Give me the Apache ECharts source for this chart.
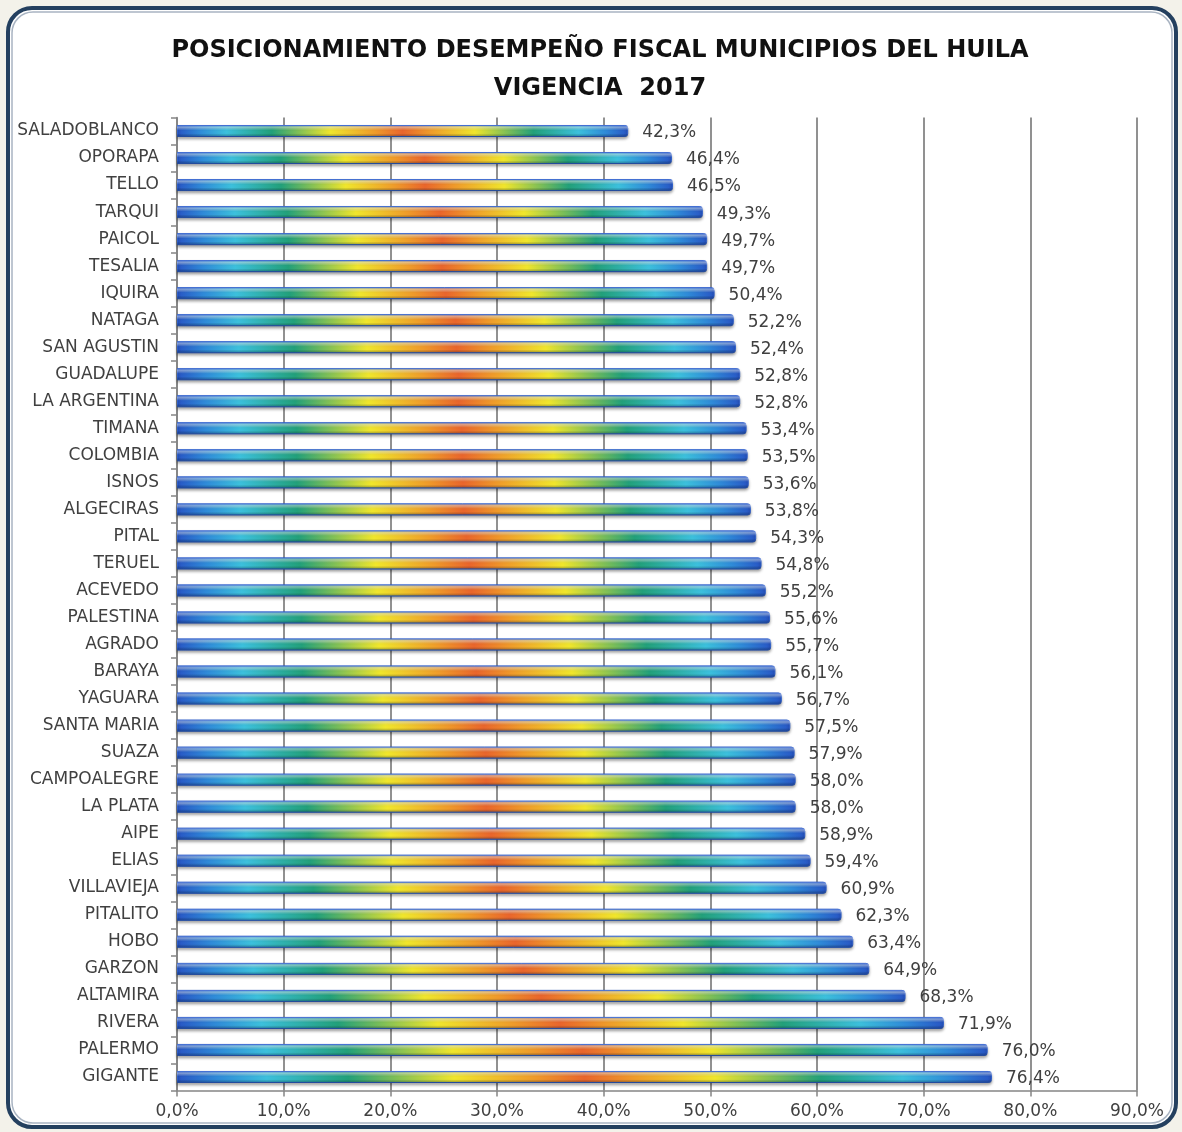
<!DOCTYPE html>
<html>
<head>
<meta charset="utf-8">
<script src="https://cdn.jsdelivr.net/npm/echarts@6/dist/echarts.min.js"></script>
<style>
  html, body { margin: 0; padding: 0; background: #f3f2ea; }
  #chart { width: 1182px; height: 1132px; }
</style>
</head>
<body>
<div id="chart"></div>
<script>
var municipios = [
  'SALADOBLANCO', 'OPORAPA', 'TELLO', 'TARQUI', 'PAICOL', 'TESALIA', 'IQUIRA',
  'NATAGA', 'SAN AGUSTIN', 'GUADALUPE', 'LA ARGENTINA', 'TIMANA', 'COLOMBIA',
  'ISNOS', 'ALGECIRAS', 'PITAL', 'TERUEL', 'ACEVEDO', 'PALESTINA', 'AGRADO',
  'BARAYA', 'YAGUARA', 'SANTA MARIA', 'SUAZA', 'CAMPOALEGRE', 'LA PLATA',
  'AIPE', 'ELIAS', 'VILLAVIEJA', 'PITALITO', 'HOBO', 'GARZON', 'ALTAMIRA',
  'RIVERA', 'PALERMO', 'GIGANTE'
];
var desempeno = [
  42.3, 46.4, 46.5, 49.3, 49.7, 49.7, 50.4,
  52.2, 52.4, 52.8, 52.8, 53.4, 53.5,
  53.6, 53.8, 54.3, 54.8, 55.2, 55.6, 55.7,
  56.1, 56.7, 57.5, 57.9, 58.0, 58.0,
  58.9, 59.4, 60.9, 62.3, 63.4, 64.9, 68.3,
  71.9, 76.0, 76.4
];
var titulo1 = 'POSICIONAMIENTO DESEMPEÑO FISCAL MUNICIPIOS DEL HUILA';
var titulo2 = 'VIGENCIA  2017';

function pct(v) {
  return v.toFixed(1).replace('.', ',') + '%';
}

var chart = echarts.init(document.getElementById('chart'), null, { renderer: 'canvas' });

// colour runs along each bar: blue ends, red-orange middle
var rainbow = new echarts.graphic.LinearGradient(0, 0, 1, 0, [
  { offset: 0, color: '#2855c4' },
  { offset: 0.05, color: '#2f8ad8' },
  { offset: 0.11, color: '#3cc0dc' },
  { offset: 0.21, color: '#22a07a' },
  { offset: 0.34, color: '#f0e62c' },
  { offset: 0.44, color: '#ef9a2a' },
  { offset: 0.5, color: '#e9652c' },
  { offset: 0.56, color: '#ef9a2a' },
  { offset: 0.66, color: '#f0e62c' },
  { offset: 0.79, color: '#22a07a' },
  { offset: 0.89, color: '#3cc0dc' },
  { offset: 0.95, color: '#2f8ad8' },
  { offset: 1, color: '#2855c4' }
]);

// tube shading on top of it
var tube = new echarts.graphic.LinearGradient(0, 0, 0, 1, [
  { offset: 0, color: 'rgba(40,90,210,0.6)' },
  { offset: 0.2, color: 'rgba(255,255,255,0.4)' },
  { offset: 0.45, color: 'rgba(255,255,255,0)' },
  { offset: 0.7, color: 'rgba(0,0,0,0)' },
  { offset: 1, color: 'rgba(10,40,90,0.4)' }
]);

chart.setOption({
  animation: false,
  backgroundColor: '#f3f2ea',
  textStyle: { fontFamily: 'DejaVu Sans' },
  graphic: [
    {
      type: 'rect',
      shape: { x: 8, y: 8, width: 1168, height: 1119, r: 24 },
      style: { fill: '#ffffff', stroke: '#24405f', lineWidth: 4 },
      z: -10
    },
    {
      type: 'rect',
      shape: { x: 12, y: 12, width: 1160, height: 1111, r: 21 },
      style: { fill: 'none', stroke: '#a9b4c2', lineWidth: 1.5 },
      z: -9
    },
    {
      type: 'text',
      x: 600,
      y: 51,
      style: {
        text: titulo1,
        font: 'bold 24px "DejaVu Sans"',
        fill: '#111111',
        align: 'center',
        verticalAlign: 'middle'
      }
    },
    {
      type: 'text',
      x: 600,
      y: 89,
      style: {
        text: titulo2,
        font: 'bold 24px "DejaVu Sans"',
        fill: '#111111',
        align: 'center',
        verticalAlign: 'middle'
      }
    }
  ],
  grid: {
    left: 177,
    right: 45,
    top: 117.5,
    bottom: 41.5
  },
  xAxis: {
    type: 'value',
    min: 0,
    max: 90,
    interval: 10,
    axisLine: { show: true, lineStyle: { color: '#858585', width: 1.5 } },
    axisTick: { show: true, length: 6, lineStyle: { color: '#858585', width: 1.5 } },
    axisLabel: {
      formatter: function (v) { return pct(v); },
      color: '#404040',
      fontSize: 17,
      margin: 13
    },
    splitLine: { show: true, lineStyle: { color: '#858585', width: 1.8 } }
  },
  yAxis: {
    type: 'category',
    data: municipios,
    inverse: true,
    axisLine: { show: true, lineStyle: { color: '#858585', width: 1.5 } },
    axisTick: { show: true, length: 6, lineStyle: { color: '#858585', width: 1.5 } },
    axisLabel: { color: '#404040', fontSize: 17, margin: 18, padding: [3, 0, 0, 0] }
  },
  series: [
    {
      type: 'bar',
      data: desempeno,
      barWidth: 12,
      itemStyle: {
        color: rainbow,
        borderColor: '#2f5fc8',
        borderWidth: 1,
        borderRadius: [0, 3, 3, 0],
        shadowColor: 'rgba(0,0,0,0.35)',
        shadowBlur: 3,
        shadowOffsetY: 2
      },
      label: {
        show: true,
        position: 'right',
        distance: 14,
        offset: [0, 2],
        color: '#404040',
        fontSize: 17,
        formatter: function (p) { return pct(p.value); }
      }
    },
    {
      type: 'bar',
      data: desempeno,
      barWidth: 12,
      barGap: '-100%',
      silent: true,
      itemStyle: {
        color: tube,
        borderRadius: [0, 3, 3, 0]
      }
    }
  ]
});
</script>
</body>
</html>
